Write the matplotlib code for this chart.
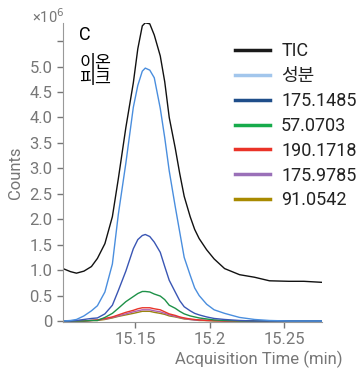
import numpy as np
import matplotlib
matplotlib.use("Agg")
import matplotlib.pyplot as plt
from matplotlib.lines import Line2D

plt.rcParams['font.family'] = ['Roboto', 'Noto Sans CJK KR', 'DejaVu Sans']

# acquisition time (min)
times = [15.102, 15.107, 15.111, 15.116, 15.121, 15.125, 15.130, 15.135, 15.139,
         15.144, 15.149, 15.152, 15.155, 15.157, 15.160, 15.163, 15.167, 15.170,
         15.173, 15.177, 15.180, 15.183, 15.187, 15.190, 15.193, 15.198, 15.203,
         15.210, 15.220, 15.230, 15.240, 15.253, 15.263, 15.275]

# counts (x10^6)
tic = [1.03, 0.97, 0.94, 0.98, 1.07, 1.23, 1.52, 2.05, 2.80, 3.80, 4.68, 5.35,
       5.80, 5.86, 5.84, 5.62, 5.21, 4.70, 4.00, 3.40, 2.90, 2.45, 2.05, 1.80,
       1.62, 1.40, 1.22, 1.03, 0.91, 0.86, 0.79, 0.78, 0.78, 0.76]
component = [0.0, 0.01, 0.03, 0.10, 0.20, 0.30, 0.57, 1.12, 2.10, 3.10, 4.20, 4.63,
             4.91, 4.97, 4.93, 4.78, 4.18, 3.60, 2.95, 2.25, 1.75, 1.25, 0.90, 0.65,
             0.50, 0.33, 0.22, 0.15, 0.07, 0.03, 0.01, 0.0, 0.0, 0.0]
ion_175_1485 = [0.0, 0.0, 0.01, 0.03, 0.05, 0.06, 0.14, 0.31, 0.60, 0.98, 1.42, 1.60,
                1.68, 1.70, 1.66, 1.55, 1.35, 1.07, 0.80, 0.57, 0.40, 0.28, 0.20, 0.15,
                0.12, 0.08, 0.05, 0.03, 0.01, 0.0, 0.0, 0.0, 0.0, 0.0]
ion_57_0703 = [0.0, 0.0, 0.0, 0.0, 0.01, 0.01, 0.07, 0.15, 0.25, 0.38, 0.48, 0.54,
               0.58, 0.58, 0.57, 0.53, 0.49, 0.42, 0.31, 0.25, 0.19, 0.14, 0.10, 0.08,
               0.06, 0.04, 0.02, 0.01, 0.0, 0.0, 0.0, 0.0, 0.0, 0.0]
ion_190_1718 = [0.0, 0.0, 0.0, 0.0, 0.01, 0.02, 0.05, 0.08, 0.12, 0.17, 0.21, 0.24,
                0.26, 0.26, 0.26, 0.24, 0.22, 0.18, 0.14, 0.11, 0.08, 0.06, 0.04, 0.03,
                0.02, 0.01, 0.01, 0.0, 0.0, 0.0, 0.0, 0.0, 0.0, 0.0]
ion_175_9785 = [0.0, 0.0, 0.0, 0.0, 0.01, 0.02, 0.04, 0.07, 0.10, 0.14, 0.18, 0.20,
                0.22, 0.22, 0.22, 0.20, 0.18, 0.15, 0.12, 0.09, 0.07, 0.05, 0.03, 0.02,
                0.02, 0.01, 0.01, 0.0, 0.0, 0.0, 0.0, 0.0, 0.0, 0.0]
ion_91_0542 = [0.0, 0.0, 0.0, 0.0, 0.01, 0.01, 0.03, 0.06, 0.09, 0.12, 0.15, 0.17,
               0.19, 0.19, 0.19, 0.17, 0.15, 0.13, 0.10, 0.08, 0.06, 0.04, 0.03, 0.02,
               0.01, 0.01, 0.0, 0.0, 0.0, 0.0, 0.0, 0.0, 0.0, 0.0]

names = ['TIC', '성분', '175.1485', '57.0703', '190.1718', '175.9785', '91.0542']
series = [tic, component, ion_175_1485, ion_57_0703, ion_190_1718, ion_175_9785, ion_91_0542]
line_colors = ['#111111', '#4a8ede', '#3a56b4', '#1e9148', '#e8352a', '#b060b0', '#9a8410']
legend_colors = ['#1a1a1a', '#a2c6ec', '#1f4e8a', '#17ab4b', '#ea3328', '#9a70b8', '#a88a00']

fig = plt.figure(figsize=(3.6, 3.74), dpi=100)
ax = fig.add_axes([0.175, 0.139, 0.719, 0.80])

# draw small ions first so the big traces sit on top
for i in [6, 5, 4, 3, 2, 1, 0]:
    ax.plot(times, series[i], color=line_colors[i], lw=1.0)

ax.set_xlim(15.102, 15.275)
ax.set_ylim(-0.02, 5.86)

gray = '#777777'
ax.set_xticks([15.15, 15.2, 15.25])
ax.set_xticklabels(['15.15', '15.2', '15.25'])
ax.set_yticks([0, 0.5, 1.0, 1.5, 2.0, 2.5, 3.0, 3.5, 4.0, 4.5, 5.0, 5.5])
ax.set_yticklabels(['0', '0.5', '1.0', '1.5', '2.0', '2.5', '3.0', '3.5', '4.0',
                    '4.5', '5.0', ''])
ax.tick_params(colors=gray, labelcolor=gray, labelsize=12, length=4, width=1)

for s in ['top', 'right']:
    ax.spines[s].set_visible(False)
for s in ['left', 'bottom']:
    ax.spines[s].set_color('#999999')

ax.set_ylabel('Counts', color=gray, fontsize=12)
ax.yaxis.set_label_coords(-0.155, 0.5)
ax.set_xlabel('Acquisition Time (min)', color=gray, fontsize=12, ha='right')
ax.xaxis.set_label_coords(1.08, -0.095)

fig.text(0.09, 0.955, r'×10$^6$', color=gray, fontsize=10.5, va='center')
ax.text(0.063, 0.99, 'C', transform=ax.transAxes, fontsize=13, va='top')
ax.text(0.063, 0.893, '이온\n피크', transform=ax.transAxes, fontsize=12.5,
        va='top', linespacing=1.05)

handles = [Line2D([], [], color=c, lw=2.5) for c in legend_colors]
leg = ax.legend(handles, names, loc='upper left', bbox_to_anchor=(0.665, 0.935),
                frameon=False, fontsize=13, handlelength=1.95, handletextpad=0.6,
                labelspacing=0.38, borderaxespad=0, borderpad=0)
for t in leg.get_texts():
    t.set_color('#222222')

fig.savefig('out.png', dpi=100)
